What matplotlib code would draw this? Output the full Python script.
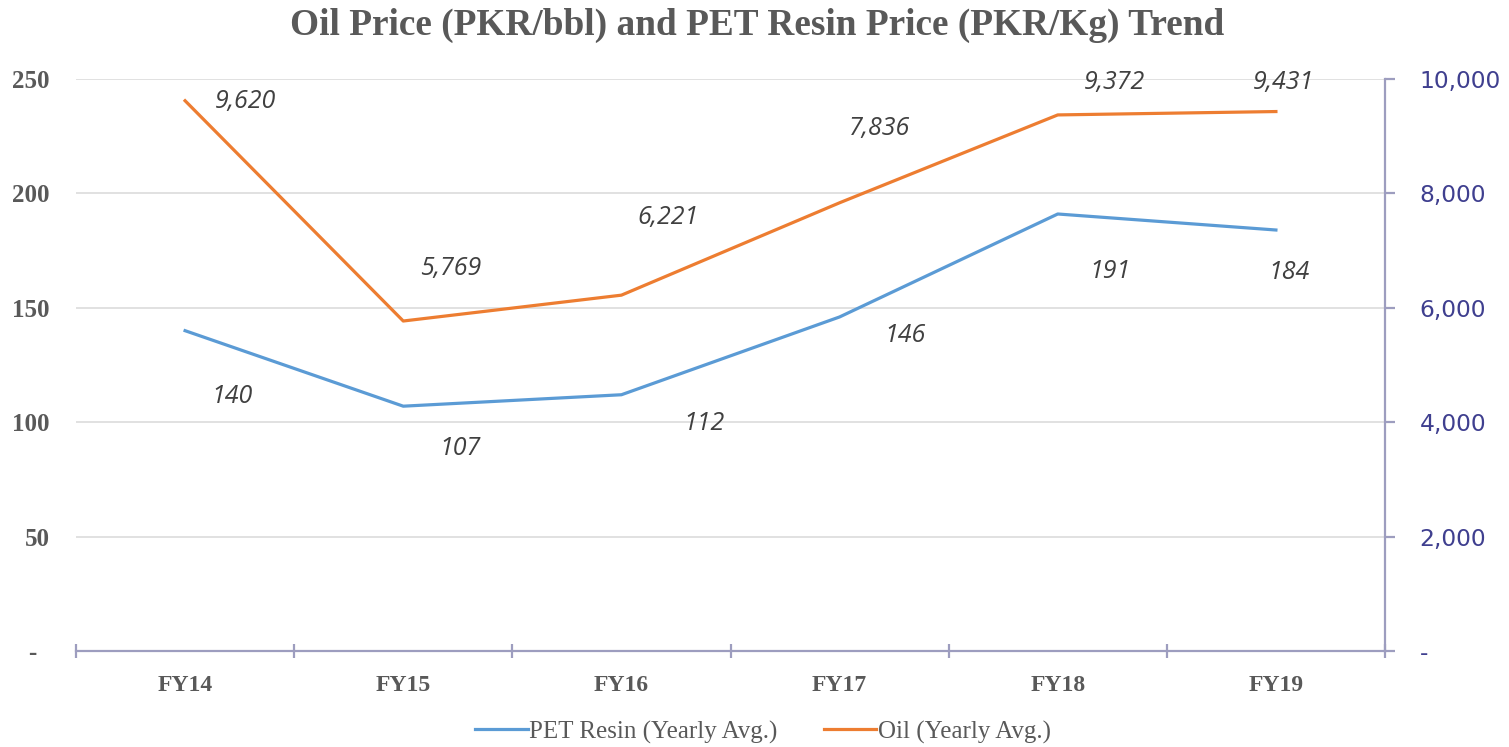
import numpy as np
import matplotlib
matplotlib.use("Agg")
import matplotlib.pyplot as plt

# data
years = ['FY14', 'FY15', 'FY16', 'FY17', 'FY18', 'FY19']
pet_resin = [140, 107, 112, 146, 191, 184]      # PKR/Kg, left axis
oil = [9620, 5769, 6221, 7836, 9372, 9431]      # PKR/bbl, right axis

left_ticks = [0, 50, 100, 150, 200, 250]
right_ticks = [0, 2000, 4000, 6000, 8000, 10000]

# label offsets (pixels) for data labels
pet_off = [(47, -66), (57, -42), (83, -29), (65, -19), (52, -58), (13, -42)]
oil_off = [(60, -1), (47, 53), (47, 78), (40, 74), (57, 32), (8, 29)]

blue = '#5B9BD5'
orange = '#ED7D31'
axis_col = '#9D9DBF'
gray_txt = '#595959'
right_txt = '#3F3F8F'

fig = plt.figure(figsize=(15.09, 7.47), dpi=100)
ax = fig.add_axes([76 / 1509, 96 / 747, (1385 - 76) / 1509, (651 - 79) / 747])
ax2 = ax.twinx()

x = np.arange(len(years))
ax.plot(x, pet_resin, color=blue, lw=2.3, label='PET Resin (Yearly Avg.)', zorder=3)
ax2.plot(x, oil, color=orange, lw=2.3, label='Oil (Yearly Avg.)', zorder=3)

ax.set_xlim(-0.5, len(years) - 0.5)
ax.set_ylim(0, 250)
ax2.set_ylim(0, 10000)

# grid
ax.set_yticks(left_ticks)
ax.yaxis.grid(True, color='#D9D9D9', lw=1.1)
ax.set_axisbelow(True)

# spines
for a in (ax, ax2):
    for s in ['top', 'left', 'right', 'bottom']:
        a.spines[s].set_visible(False)
ax.spines['bottom'].set_visible(True)
ax.spines['bottom'].set_color(axis_col)
ax.spines['bottom'].set_linewidth(1.6)
ax2.spines['right'].set_visible(True)
ax2.spines['right'].set_color(axis_col)
ax2.spines['right'].set_linewidth(1.6)

# x ticks: marks at category borders, labels at centers
ax.set_xticks(x)
ax.set_xticklabels(years, fontfamily='Liberation Serif', fontweight='bold',
                   fontsize=17, color=gray_txt)
ax.set_xticks(np.arange(-0.5, len(years)), minor=True)
ax.tick_params(axis='x', which='major', length=0, pad=17)
ax.tick_params(axis='x', which='minor', length=10, width=1.6, direction='inout',
               color=axis_col)

# left y labels
ax.set_yticklabels(['-  '] + [str(v) for v in left_ticks[1:]],
                   fontfamily='Liberation Serif', fontweight='bold',
                   fontsize=18, color=gray_txt)
ax.tick_params(axis='y', length=0, pad=19)

# right y labels
ax2.set_yticks(right_ticks)
ax2.set_yticklabels(['-'] + [f'{v:,}' for v in right_ticks[1:]],
                    fontfamily='DejaVu Sans', fontsize=16.8, color=right_txt)
ax2.tick_params(axis='y', length=7, width=1.6, direction='out', color=axis_col, pad=18)

# data labels
for xi, v, off in zip(x, pet_resin, pet_off):
    ax.annotate(f'{v:,}', (xi, v), xytext=off, textcoords='offset pixels',
                ha='center', va='center', fontsize=18, fontstyle='italic',
                fontfamily='Open Sans', color='#404040')
for xi, v, off in zip(x, oil, oil_off):
    ax2.annotate(f'{v:,}', (xi, v), xytext=off, textcoords='offset pixels',
                 ha='center', va='center', fontsize=18, fontstyle='italic',
                 fontfamily='Open Sans', color='#404040')

fig.suptitle('Oil Price (PKR/bbl) and PET Resin Price (PKR/Kg) Trend',
             x=757 / 1509, y=1 - 25 / 747, va='center',
             fontfamily='Liberation Serif', fontweight='bold', fontsize=26.8,
             color=gray_txt)

h1, l1 = ax.get_legend_handles_labels()
h2, l2 = ax2.get_legend_handles_labels()
fig.legend(h1 + h2, l1 + l2, loc='center', bbox_to_anchor=(763 / 1509, 1 - 732 / 747),
           ncol=2, frameon=False, handlelength=2.1, handletextpad=0.05,
           columnspacing=1.85,
           prop={'family': 'Liberation Serif', 'size': 18}, labelcolor=gray_txt)

fig.savefig('out.png', dpi=100)
